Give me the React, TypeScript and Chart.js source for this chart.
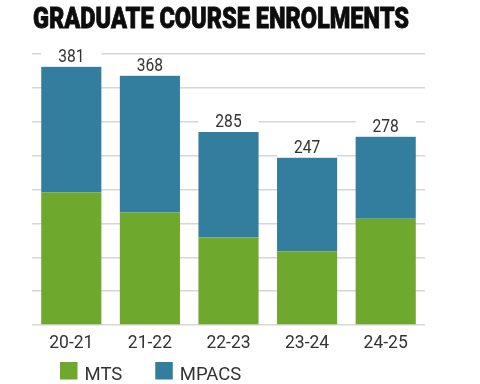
import React, { useEffect, useRef } from "react";
import { Chart, registerables } from "chart.js";

Chart.register(...registerables);

const categories = ["20-21", "21-22", "22-23", "23-24", "24-25"];
const seriesNames = ["MTS", "MPACS"];
const mtsValues = [196, 166, 129, 109, 157];
const mpacsValues = [185, 202, 156, 138, 121];
const totals = [381, 368, 285, 247, 278];
const yMax = 400;
const yStep = 50;
const titleText = "GRADUATE COURSE ENROLMENTS";

const GREEN = "#6ea82d";
const BLUE = "#337e9f";
const TEXT = "#333333";
const FONT = "Roboto, 'DejaVu Sans', sans-serif";

const titlePlugin = {
  id: "condensedTitle",
  afterDraw(chart: any) {
    const ctx = chart.ctx;
    const left = 33;
    const targetWidth = 376;
    const baseline = 27.5;
    ctx.save();
    ctx.font = `900 29px ${FONT}`;
    ctx.textAlign = "left";
    ctx.textBaseline = "alphabetic";
    ctx.fillStyle = "#0d0d0d";
    ctx.strokeStyle = "#0d0d0d";
    ctx.lineWidth = 0.8;
    const w = ctx.measureText(titleText).width;
    ctx.translate(left, baseline);
    ctx.scale(targetWidth / w, 1);
    ctx.fillText(titleText, 0, 0);
    ctx.strokeText(titleText, 0, 0);
    ctx.restore();
  },
};

const totalLabels = {
  id: "totalLabels",
  afterDatasetsDraw(chart: any) {
    const ctx = chart.ctx;
    const meta = chart.getDatasetMeta(chart.data.datasets.length - 1);
    ctx.save();
    ctx.font = `19px ${FONT}`;
    ctx.textAlign = "center";
    ctx.textBaseline = "alphabetic";
    meta.data.forEach((bar: any, i: number) => {
      const { x, y, width } = bar.getProps(["x", "y", "width"], true);
      ctx.fillStyle = "#ffffff";
      ctx.fillRect(x - width / 2, y - 20, width, 19.5);
      ctx.save();
      ctx.fillStyle = TEXT;
      ctx.translate(x, y - 5);
      ctx.scale(0.82, 1);
      ctx.fillText(String(totals[i]), 0, 0);
      ctx.restore();
    });
    ctx.restore();
  },
};

const bottomLegend = {
  id: "bottomLegend",
  afterDraw(chart: any) {
    const ctx = chart.ctx;
    const left = chart.chartArea.left + 28;
    const boxSize = 17.5;
    const top = 362;
    ctx.save();
    ctx.font = `18.5px ${FONT}`;
    ctx.textAlign = "left";
    ctx.textBaseline = "alphabetic";
    let x = left;
    chart.data.datasets.forEach((ds: any) => {
      ctx.fillStyle = ds.backgroundColor;
      ctx.fillRect(x, top, boxSize, boxSize);
      ctx.fillStyle = TEXT;
      const tx = x + boxSize + 7;
      ctx.fillText(ds.label, tx, top + boxSize);
      x = tx + ctx.measureText(ds.label).width + 33;
    });
    ctx.restore();
  },
};

export default function App() {
  const canvasRef = useRef<HTMLCanvasElement | null>(null);

  useEffect(() => {
    if (!canvasRef.current) return;
    const chart = new Chart(canvasRef.current, {
      type: "bar",
      data: {
        labels: categories,
        datasets: [
          { label: seriesNames[0], data: mtsValues, backgroundColor: GREEN, borderWidth: 0 },
          { label: seriesNames[1], data: mpacsValues, backgroundColor: BLUE, borderWidth: 0 },
        ],
      },
      options: {
        animation: false,
        responsive: true,
        maintainAspectRatio: false,
        layout: { padding: { left: 32, right: 55, top: 54, bottom: 22 } },
        datasets: { bar: { categoryPercentage: 1, barPercentage: 0.765 } },
        plugins: {
          legend: { display: false },
          tooltip: { enabled: false },
          title: { display: false },
        },
        scales: {
          x: {
            stacked: true,
            grid: { display: false, drawTicks: false },
            border: { display: false },
            ticks: { color: TEXT, font: { family: FONT, size: 17.5 }, padding: 8 },
          },
          y: {
            stacked: true,
            min: 0,
            max: yMax,
            ticks: { display: false, stepSize: yStep },
            grid: { color: "#d6d6d6", lineWidth: 1.5, drawTicks: false },
            border: { display: false },
          },
        },
      },
      plugins: [totalLabels, bottomLegend, titlePlugin],
    });
    return () => chart.destroy();
  }, []);

  return (
    <div style={{ position: "fixed", left: 0, top: 0, width: 480, height: 384, background: "#fff" }}>
      <canvas ref={canvasRef} />
    </div>
  );
}
